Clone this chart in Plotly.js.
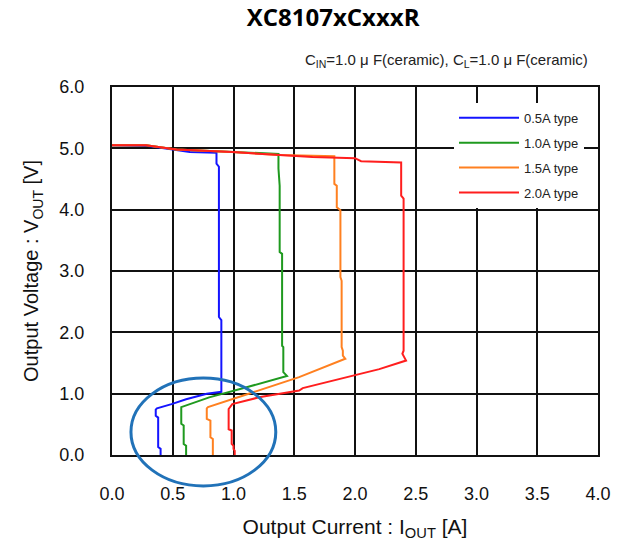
<!DOCTYPE html>
<html>
<head>
<meta charset="utf-8">
<script src="https://cdn.plot.ly/plotly-3.0.1.min.js"></script>
<style>html,body{margin:0;padding:0;background:#fff;}#chart{width:618px;height:541px;}</style>
</head>
<body>
<div id="chart"></div>
<script>
// Series names
const seriesNames = ["0.5A type", "1.0A type", "1.5A type", "2.0A type"];
const seriesColors = ["#1414ff", "#1f9a1f", "#ff8020", "#ff1e1e"];

// 0.5A type
const x05 = [0.00, 0.28, 0.50, 0.64, 0.86, 0.86, 0.88, 0.88, 0.90, 0.90, 0.78, 0.61, 0.49, 0.37, 0.36, 0.36, 0.38, 0.38, 0.40, 0.40];
const y05 = [5.05, 5.04, 4.98, 4.94, 4.93, 4.75, 4.70, 2.25, 2.20, 1.03, 1.00, 0.91, 0.83, 0.76, 0.74, 0.64, 0.61, 0.13, 0.10, 0.00];

// 1.0A type
const x10 = [0.00, 0.28, 0.53, 0.99, 1.37, 1.37, 1.38, 1.38, 1.40, 1.40, 1.41, 1.41, 1.44, 1.10, 0.80, 0.57, 0.57, 0.59, 0.59, 0.61, 0.61];
const y10 = [5.05, 5.05, 4.98, 4.94, 4.91, 4.67, 4.39, 3.31, 3.28, 1.78, 1.76, 1.35, 1.29, 1.10, 0.94, 0.78, 0.51, 0.48, 0.18, 0.15, 0.00];

// 1.5A type
const x15 = [0.00, 0.28, 0.53, 0.99, 1.38, 1.83, 1.83, 1.85, 1.85, 1.88, 1.88, 1.89, 1.89, 1.90, 1.90, 1.92, 1.54, 1.21, 0.99, 0.79, 0.78, 0.78, 0.81, 0.81, 0.83, 0.83];
const y15 = [5.05, 5.05, 4.98, 4.94, 4.89, 4.87, 4.42, 4.39, 4.04, 3.99, 2.90, 2.84, 1.76, 1.70, 1.62, 1.57, 1.27, 1.05, 0.91, 0.78, 0.76, 0.59, 0.56, 0.29, 0.26, 0.00];

// 2.0A type
const x20 = [0.00, 0.28, 0.53, 0.99, 1.38, 1.65, 2.00, 2.05, 2.38, 2.38, 2.40, 2.40, 2.39, 2.42, 2.20, 1.98, 1.79, 1.57, 1.54, 1.21, 0.99, 0.96, 0.96, 0.985, 0.985, 1.00, 1.00, 1.01, 1.01];
const y20 = [5.05, 5.05, 4.98, 4.94, 4.89, 4.86, 4.84, 4.79, 4.77, 4.23, 4.18, 1.70, 1.65, 1.54, 1.40, 1.29, 1.19, 1.09, 1.05, 0.94, 0.83, 0.75, 0.42, 0.40, 0.18, 0.15, 0.10, 0.07, 0.00];

const xs = [x05, x10, x15, x20];
const ys = [y05, y10, y15, y20];

// Axis ticks
const xTicks = [0.0, 0.5, 1.0, 1.5, 2.0, 2.5, 3.0, 3.5, 4.0];
const yTicks = [0.0, 1.0, 2.0, 3.0, 4.0, 5.0, 6.0];

const traces = seriesNames.map((name, i) => ({
  type: 'scatter',
  mode: 'lines',
  name: name,
  x: xs[i],
  y: ys[i],
  line: {color: seriesColors[i], width: 2},
  legendgroup: 'g' + i
}));

const FAM = '"Liberation Sans", Arial, sans-serif';
const labelFont = {family: FAM, size: 18, color: '#111'};

const layout = {
  width: 618,
  height: 541,
  margin: {l: 112, r: 20, t: 87, b: 86},
  paper_bgcolor: '#fff',
  plot_bgcolor: '#fff',
  showlegend: true,
  title: {
    text: '<b>XC8107xCxxxR</b>',
    font: {family: '"Open Sans", sans-serif', size: 24, color: '#000'},
    xref: 'container', x: 0.539, xanchor: 'center',
    yref: 'container', y: 0.967, yanchor: 'middle'
  },
  xaxis: {
    range: [0, 4],
    tickvals: xTicks,
    ticktext: xTicks.map(v => v.toFixed(1)),
    showgrid: true, gridcolor: '#111', gridwidth: 2,
    zeroline: false,
    showline: true, linecolor: '#111', linewidth: 2, mirror: true,
    ticks: '',
    ticklabelstandoff: 21,
    tickfont: labelFont,
    title: {text: 'Output Current : I<sub>OUT</sub> [A]', font: {family: FAM, size: 21, color: '#111'}, standoff: 20},
    fixedrange: true
  },
  yaxis: {
    range: [0, 6],
    tickvals: yTicks,
    ticktext: yTicks.map(v => v.toFixed(1)),
    showgrid: true, gridcolor: '#111', gridwidth: 2,
    zeroline: false,
    showline: true, linecolor: '#111', linewidth: 2, mirror: true,
    ticks: '',
    ticklabelstandoff: 22,
    tickfont: labelFont,
    title: {text: 'Output Voltage : V<sub>OUT</sub> [V]', font: {family: FAM, size: 20, color: '#111'}, standoff: 15},
    fixedrange: true
  },
  legend: {
    x: 0.7037, y: 0.957, xanchor: 'left', yanchor: 'top',
    bgcolor: '#fff', borderwidth: 0,
    font: {family: FAM, size: 13, color: '#222'},
    itemwidth: 60,
    traceorder: 'grouped', tracegroupgap: 5
  },
  annotations: [{
    text: 'C<sub>IN</sub>=1.0 μ F(ceramic), C<sub>L</sub>=1.0 μ F(ceramic)',
    xref: 'paper', yref: 'paper', x: 0.9835, y: 1.073,
    xanchor: 'right', yanchor: 'middle', showarrow: false,
    font: {family: FAM, size: 15, color: '#222'}
  }],
  shapes: [{
    type: 'circle', xref: 'paper', yref: 'paper',
    x0: 0.039, x1: 0.337, y0: -0.084, y1: 0.209,
    line: {color: '#2172b8', width: 3}, layer: 'above'
  }]
};

Plotly.newPlot('chart', traces, layout, {displayModeBar: false, staticPlot: true});
</script>
</body>
</html>
